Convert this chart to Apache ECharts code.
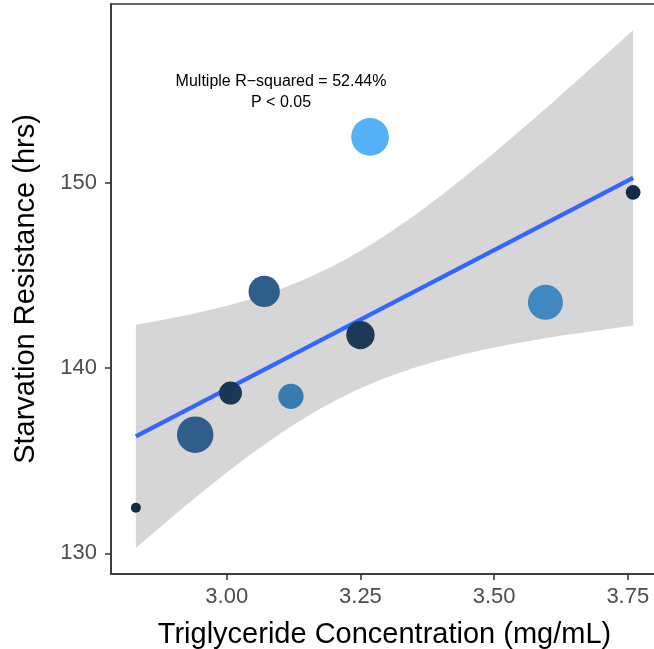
<!DOCTYPE html>
<html>
<head>
<meta charset="utf-8">
<script src="https://cdn.jsdelivr.net/npm/echarts@6/dist/echarts.min.js"></script>
<style>
  html, body { margin: 0; padding: 0; background: #ffffff; }
  #chart { width: 654px; height: 649px; }
</style>
</head>
<body>
<div id="chart"></div>
<script>
// ---- data ----
var triglyceride = [2.830, 2.941, 3.007, 3.070, 3.120, 3.250, 3.268, 3.596, 3.760];
var starvation   = [132.46, 136.41, 138.66, 144.15, 138.48, 141.79, 152.50, 143.56, 149.50];
var pointSizes   = [10, 36.5, 23, 31.3, 25.3, 28.3, 37.7, 35, 14.7];
var pointColors  = ['#142B45', '#2D5F8A', '#1A3755', '#2D5F88', '#3A7BAF', '#1C3A58', '#56B1F7', '#4288C0', '#152C45'];
var xTicks = [3.00, 3.25, 3.50, 3.75];
var yTicks = [130, 140, 150];
var annotationText = 'Multiple R\u2212squared = 52.44%\nP < 0.05';
var xTitle = 'Triglyceride Concentration (mg/mL)';
var yTitle = 'Starvation Resistance (hrs)';

// ---- linear fit with 95% confidence band (as geom_smooth(method = "lm")) ----
var n = triglyceride.length;
var mx = triglyceride.reduce(function (a, b) { return a + b; }, 0) / n;
var my = starvation.reduce(function (a, b) { return a + b; }, 0) / n;
var sxx = 0, sxy = 0, syy = 0;
for (var i = 0; i < n; i++) {
  var dx = triglyceride[i] - mx, dy = starvation[i] - my;
  sxx += dx * dx; sxy += dx * dy; syy += dy * dy;
}
var slope = sxy / sxx;
var intercept = my - slope * mx;
var sres = Math.sqrt((syy - slope * sxy) / (n - 2));
var tq = 2.364624; // qt(0.975, 7)
var xLo = Math.min.apply(null, triglyceride), xHi = Math.max.apply(null, triglyceride);
var bandX = [], bandLo = [], bandHi = [];
for (var k = 0; k < 80; k++) {
  var xv = xLo + (xHi - xLo) * k / 79;
  var fit = intercept + slope * xv;
  var se = sres * Math.sqrt(1 / n + (xv - mx) * (xv - mx) / sxx);
  bandX.push(xv); bandLo.push(fit - tq * se); bandHi.push(fit + tq * se);
}
var fitLine = [[xLo, intercept + slope * xLo], [xHi, intercept + slope * xHi]];

// axis limits with ggplot's 5% expansion
var xPad = (xHi - xLo) * 0.05;
var yAll = starvation.concat(bandLo, bandHi);
var yMinD = Math.min.apply(null, yAll), yMaxD = Math.max.apply(null, yAll);
var yPad = (yMaxD - yMinD) * 0.05;

var FONT = 'Liberation Sans, Arial, Helvetica, sans-serif';
var chart = echarts.init(document.getElementById('chart'), null, { renderer: 'canvas' });

var scatterData = triglyceride.map(function (x, i) {
  return { value: [x, starvation[i]], symbolSize: pointSizes[i], itemStyle: { color: pointColors[i] } };
});

chart.setOption({
  animation: false,
  backgroundColor: '#ffffff',
  grid: {
    left: 111, top: 4, width: 547, height: 570,
    show: true, borderColor: '#333333', borderWidth: 1.5,
    outerBoundsMode: 'none'
  },
  xAxis: {
    type: 'value',
    min: xLo - xPad, max: xHi + xPad,
    name: xTitle, nameLocation: 'middle', nameGap: 46,
    nameTextStyle: { fontFamily: FONT, fontSize: 29, color: '#000000' },
    axisLine: { show: true, lineStyle: { color: '#333333', width: 1.5 } },
    axisTick: { show: true, length: 6, customValues: xTicks, lineStyle: { color: '#333333', width: 1.5 } },
    axisLabel: { customValues: xTicks, margin: 12, fontFamily: FONT, fontSize: 22, color: '#4D4D4D',
      formatter: function (v) { return v.toFixed(2); } },
    splitLine: { show: false }
  },
  yAxis: {
    type: 'value',
    min: yMinD - yPad, max: yMaxD + yPad,
    name: yTitle, nameLocation: 'middle', nameGap: 71, nameRotate: 90,
    nameTextStyle: { fontFamily: FONT, fontSize: 29, color: '#000000' },
    axisLine: { show: true, lineStyle: { color: '#333333', width: 1.5 } },
    axisTick: { show: true, length: 6, customValues: yTicks, lineStyle: { color: '#333333', width: 1.5 } },
    axisLabel: { customValues: yTicks, margin: 14, fontFamily: FONT, fontSize: 22, color: '#4D4D4D' },
    splitLine: { show: false }
  },
  series: [
    {
      type: 'custom',
      z: 1,
      silent: true,
      data: [[bandX[0], bandLo[0]]],
      renderItem: function (params, api) {
        var pts = [];
        for (var j = 0; j < bandX.length; j++) pts.push(api.coord([bandX[j], bandHi[j]]));
        for (var j2 = bandX.length - 1; j2 >= 0; j2--) pts.push(api.coord([bandX[j2], bandLo[j2]]));
        return { type: 'polygon', shape: { points: pts }, style: { fill: 'rgba(153,153,153,0.4)' } };
      }
    },
    {
      type: 'line',
      z: 2,
      data: fitLine,
      showSymbol: false,
      symbol: 'none',
      lineStyle: { color: '#3366FF', width: 4.3 }
    },
    {
      type: 'scatter',
      z: 3,
      data: scatterData,
      itemStyle: { opacity: 1 }
    }
  ],
  graphic: [
    {
      type: 'text',
      x: 281, y: 92,
      style: {
        text: annotationText,
        font: '16px ' + FONT,
        fill: '#000000',
        align: 'center',
        verticalAlign: 'middle',
        lineHeight: 21
      }
    }
  ]
});
</script>
</body>
</html>
